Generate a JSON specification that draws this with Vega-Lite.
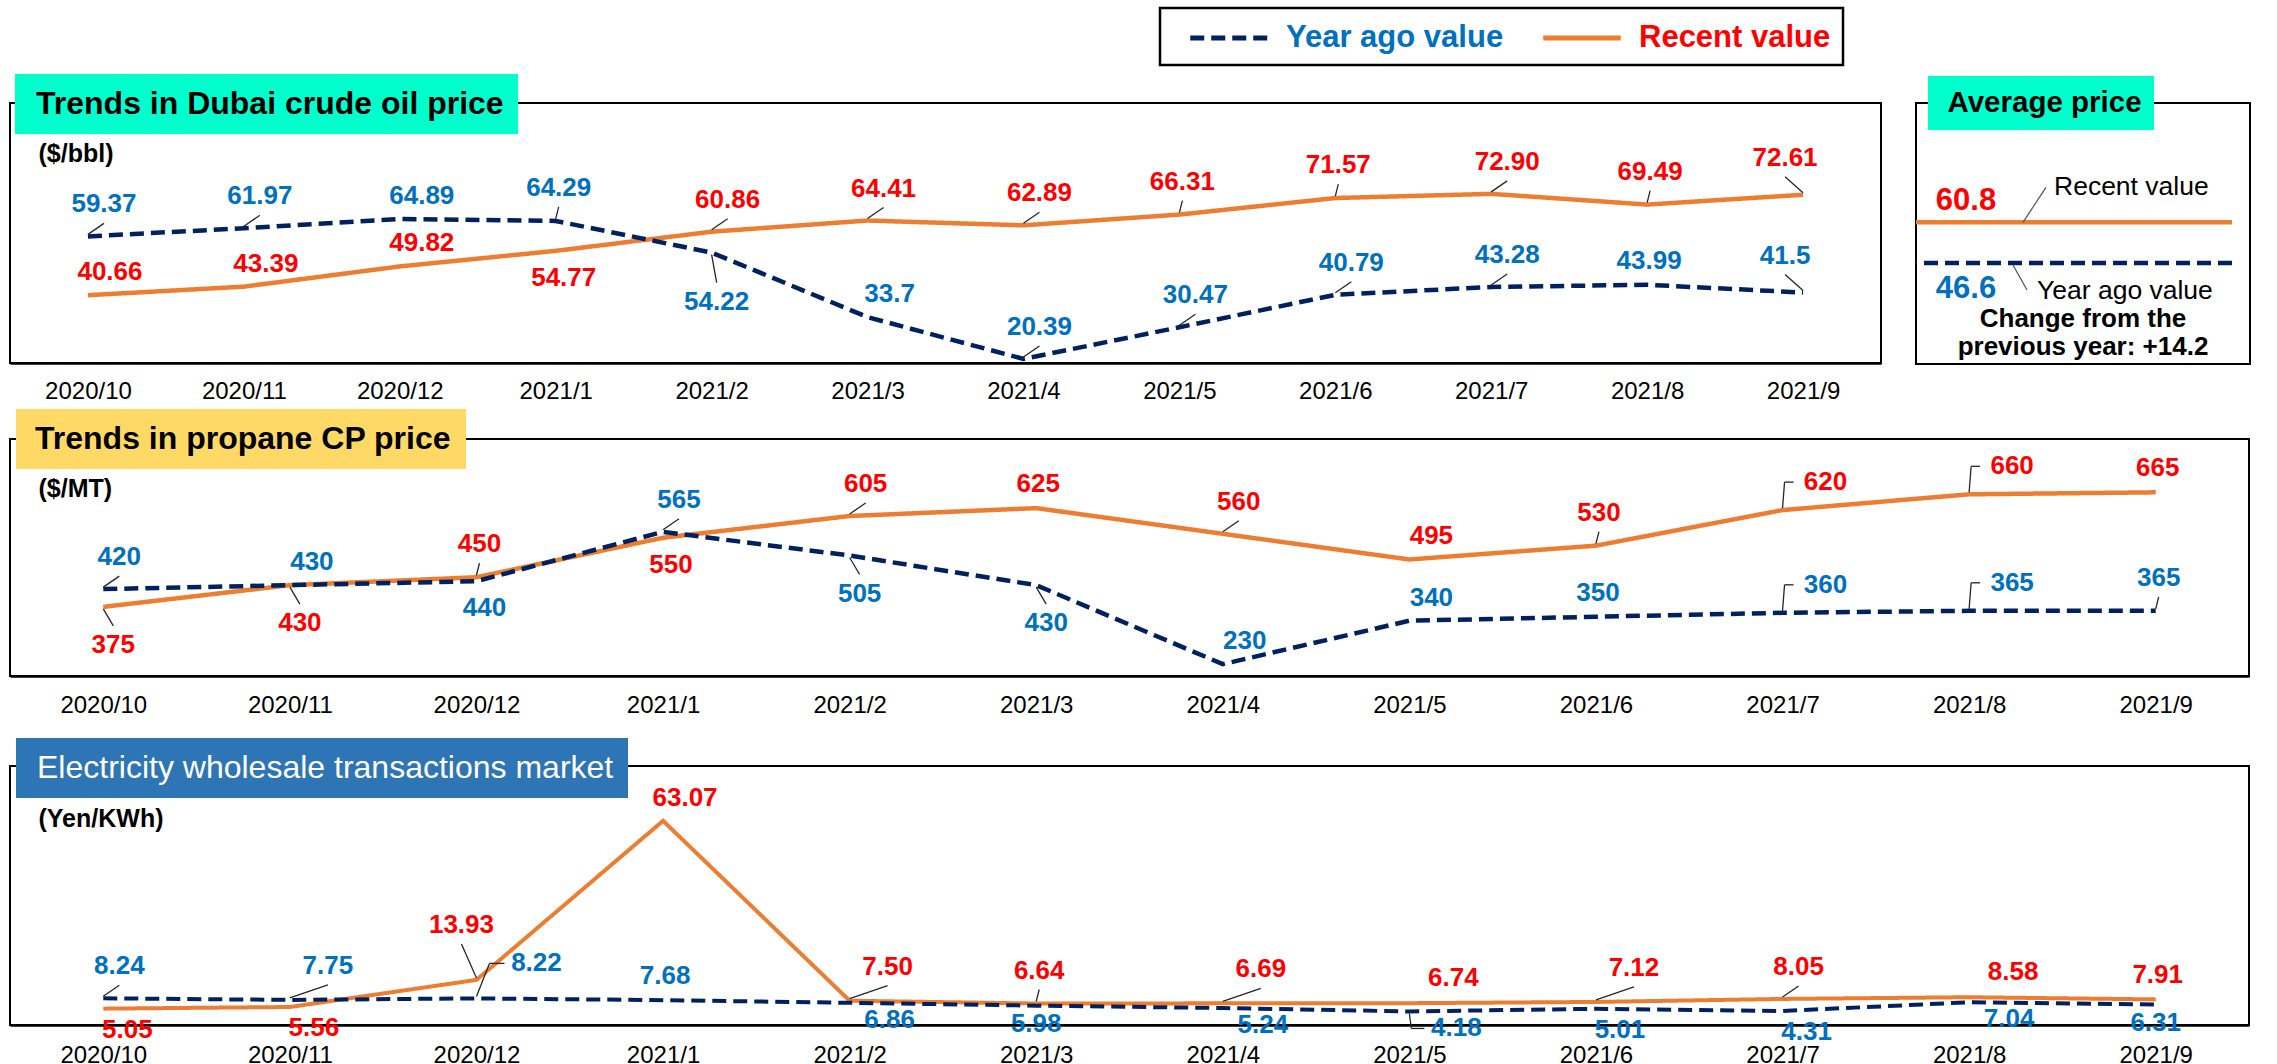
{
"$schema":"https://vega.github.io/schema/vega-lite/v6.json",
"background":"white",
"padding":{"left":9,"top":5,"right":2,"bottom":0},
"spacing":19,
"config":{"font":"Liberation Sans","view":{"stroke":"#000000","strokeWidth":2}},
"resolve":{"scale":{"x":"independent","y":"independent","stroke":"independent","strokeDash":"independent","fill":"independent","shape":"independent"},"axis":{"x":"independent","y":"independent"},"legend":{"stroke":"independent","strokeDash":"independent","fill":"independent","shape":"independent"}},
"datasets":{
"oil":[
{"m":"2020/10","s":"Recent value","v":40.66,"lab":"40.66","pos":"a"},
{"m":"2020/11","s":"Recent value","v":43.39,"lab":"43.39","pos":"a"},
{"m":"2020/12","s":"Recent value","v":49.82,"lab":"49.82","pos":"a"},
{"m":"2021/1","s":"Recent value","v":54.77,"lab":"54.77","pos":"b"},
{"m":"2021/2","s":"Recent value","v":60.86,"lab":"60.86","pos":"A"},
{"m":"2021/3","s":"Recent value","v":64.41,"lab":"64.41","pos":"A"},
{"m":"2021/4","s":"Recent value","v":62.89,"lab":"62.89","pos":"A"},
{"m":"2021/5","s":"Recent value","v":66.31,"lab":"66.31","pos":"V"},
{"m":"2021/6","s":"Recent value","v":71.57,"lab":"71.57","pos":"V"},
{"m":"2021/7","s":"Recent value","v":72.90,"lab":"72.90","pos":"A"},
{"m":"2021/8","s":"Recent value","v":69.49,"lab":"69.49","pos":"V"},
{"m":"2021/9","s":"Recent value","v":72.61,"lab":"72.61","pos":"L"},
{"m":"2020/10","s":"Year ago value","v":59.37,"lab":"59.37","pos":"A"},
{"m":"2020/11","s":"Year ago value","v":61.97,"lab":"61.97","pos":"A"},
{"m":"2020/12","s":"Year ago value","v":64.89,"lab":"64.89","pos":"a"},
{"m":"2021/1","s":"Year ago value","v":64.29,"lab":"64.29","pos":"V"},
{"m":"2021/2","s":"Year ago value","v":54.22,"lab":"54.22","pos":"BB"},
{"m":"2021/3","s":"Year ago value","v":33.7,"lab":"33.7","pos":"a"},
{"m":"2021/4","s":"Year ago value","v":20.39,"lab":"20.39","pos":"A"},
{"m":"2021/5","s":"Year ago value","v":30.47,"lab":"30.47","pos":"A"},
{"m":"2021/6","s":"Year ago value","v":40.79,"lab":"40.79","pos":"A"},
{"m":"2021/7","s":"Year ago value","v":43.28,"lab":"43.28","pos":"A"},
{"m":"2021/8","s":"Year ago value","v":43.99,"lab":"43.99","pos":"v"},
{"m":"2021/9","s":"Year ago value","v":41.5,"lab":"41.5","pos":"L"}
],
"propane":[
{"m":"2020/10","s":"Recent value","v":375,"lab":"375","pos":"B"},
{"m":"2020/11","s":"Recent value","v":430,"lab":"430","pos":"B"},
{"m":"2020/12","s":"Recent value","v":450,"lab":"450","pos":"V"},
{"m":"2021/1","s":"Recent value","v":550,"lab":"550","pos":"b"},
{"m":"2021/2","s":"Recent value","v":605,"lab":"605","pos":"A"},
{"m":"2021/3","s":"Recent value","v":625,"lab":"625","pos":"v"},
{"m":"2021/4","s":"Recent value","v":560,"lab":"560","pos":"A"},
{"m":"2021/5","s":"Recent value","v":495,"lab":"495","pos":"a"},
{"m":"2021/6","s":"Recent value","v":530,"lab":"530","pos":"V"},
{"m":"2021/7","s":"Recent value","v":620,"lab":"620","pos":"R"},
{"m":"2021/8","s":"Recent value","v":660,"lab":"660","pos":"R"},
{"m":"2021/9","s":"Recent value","v":665,"lab":"665","pos":"v"},
{"m":"2020/10","s":"Year ago value","v":420,"lab":"420","pos":"A"},
{"m":"2020/11","s":"Year ago value","v":430,"lab":"430","pos":"a"},
{"m":"2020/12","s":"Year ago value","v":440,"lab":"440","pos":"b"},
{"m":"2021/1","s":"Year ago value","v":565,"lab":"565","pos":"A"},
{"m":"2021/2","s":"Year ago value","v":505,"lab":"505","pos":"B"},
{"m":"2021/3","s":"Year ago value","v":430,"lab":"430","pos":"B"},
{"m":"2021/4","s":"Year ago value","v":230,"lab":"230","pos":"a"},
{"m":"2021/5","s":"Year ago value","v":340,"lab":"340","pos":"a"},
{"m":"2021/6","s":"Year ago value","v":350,"lab":"350","pos":"v"},
{"m":"2021/7","s":"Year ago value","v":360,"lab":"360","pos":"R"},
{"m":"2021/8","s":"Year ago value","v":365,"lab":"365","pos":"R"},
{"m":"2021/9","s":"Year ago value","v":365,"lab":"365","pos":"V"}
],
"elec":[
{"m":"2020/10","s":"Recent value","v":5.05,"lab":"5.05","pos":"dr"},
{"m":"2020/11","s":"Recent value","v":5.56,"lab":"5.56","pos":"dr"},
{"m":"2020/12","s":"Recent value","v":13.93,"lab":"13.93","pos":"U"},
{"m":"2021/1","s":"Recent value","v":63.07,"lab":"63.07","pos":"a"},
{"m":"2021/2","s":"Recent value","v":7.50,"lab":"7.50","pos":"Ar"},
{"m":"2021/3","s":"Recent value","v":6.64,"lab":"6.64","pos":"V"},
{"m":"2021/4","s":"Recent value","v":6.69,"lab":"6.69","pos":"Ar"},
{"m":"2021/5","s":"Recent value","v":6.74,"lab":"6.74","pos":"ar"},
{"m":"2021/6","s":"Recent value","v":7.12,"lab":"7.12","pos":"Ar"},
{"m":"2021/7","s":"Recent value","v":8.05,"lab":"8.05","pos":"A"},
{"m":"2021/8","s":"Recent value","v":8.58,"lab":"8.58","pos":"ar"},
{"m":"2021/9","s":"Recent value","v":7.91,"lab":"7.91","pos":"v"},
{"m":"2020/10","s":"Year ago value","v":8.24,"lab":"8.24","pos":"A"},
{"m":"2020/11","s":"Year ago value","v":7.75,"lab":"7.75","pos":"Ar"},
{"m":"2020/12","s":"Year ago value","v":8.22,"lab":"8.22","pos":"RR"},
{"m":"2021/1","s":"Year ago value","v":7.68,"lab":"7.68","pos":"v"},
{"m":"2021/2","s":"Year ago value","v":6.86,"lab":"6.86","pos":"r"},
{"m":"2021/3","s":"Year ago value","v":5.98,"lab":"5.98","pos":"d"},
{"m":"2021/4","s":"Year ago value","v":5.24,"lab":"5.24","pos":"r"},
{"m":"2021/5","s":"Year ago value","v":4.18,"lab":"4.18","pos":"Rb"},
{"m":"2021/6","s":"Year ago value","v":5.01,"lab":"5.01","pos":"dr"},
{"m":"2021/7","s":"Year ago value","v":4.31,"lab":"4.31","pos":"dr"},
{"m":"2021/8","s":"Year ago value","v":7.04,"lab":"7.04","pos":"r"},
{"m":"2021/9","s":"Year ago value","v":6.31,"lab":"6.31","pos":"d"}
],
"avg":[
{"s":"Recent value","v":60.8,"lab":"60.8"},
{"s":"Year ago value","v":46.6,"lab":"46.6"}
]
},
"vconcat":[
{
"spacing":4,
"resolve":{"scale":{"x":"independent","y":"independent","stroke":"independent","strokeDash":"independent","fill":"independent","shape":"independent"},"axis":{"x":"independent","y":"independent"},"legend":{"stroke":"independent","strokeDash":"independent","fill":"independent","shape":"independent"}},
"vconcat":[
{
"bounds":"flush",
"spacing":35,
"resolve":{"scale":{"x":"independent","y":"independent","stroke":"independent","strokeDash":"independent","fill":"independent","shape":"independent"},"axis":{"x":"independent","y":"independent"},"legend":{"stroke":"independent","strokeDash":"independent","fill":"independent","shape":"independent"}},
"hconcat":[
{
"width":1871,"height":260,
"data":{"name":"oil"},
"layer":[
{"mark":{"type":"line","strokeWidth":4.5},
"encoding":{
"x":{"field":"m","type":"ordinal","sort":null,"scale":{"type":"point","padding":0.5},"axis":{"title":null,"labelAngle":0,"labelFontSize":24,"labelColor":"#000000","labelPadding":28,"labelBaseline":"middle","ticks":false,"tickSize":0,"domainColor":"#000000","domainWidth":2.5,"grid":false,"labelFlush":false,"labelOverlap":false}},
"y":{"field":"v","type":"quantitative","scale":{"domain":[19.1,101.8],"nice":false,"zero":false},"axis":{"title":"($/bbl)","titleAngle":0,"titleAlign":"left","titleBaseline":"middle","titleX":28,"titleY":50,"titleFontSize":25,"titleFontWeight":"bold","titleColor":"#000000","domain":false,"ticks":false,"labels":false,"grid":false}},
"stroke":{"field":"s","type":"nominal","scale":{"domain":["Year ago value","Recent value"],"range":["#002060","#ED7D31"]},"legend":{"orient":"none","legendX":1150,"legendY":-95,"direction":"horizontal","gridAlign":"all","title":null,"symbolType":"M-2.5,0H2.5","symbolSize":961,"symbolStrokeWidth":5,"symbolOffset":39,"labelOffset":39,"columnPadding":21,"labelFontSize":31,"labelFontWeight":"bold","labelLimit":400,"padding":12,"strokeColor":"#000000","fillColor":"#FFFFFF","encode":{"labels":{"update":{"fill":{"signal":"datum.value === 'Recent value' ? '#FF0000' : '#0070C0'"}}},"legend":{"update":{"strokeWidth":{"value":2.5}}}}}},
"strokeDash":{"field":"s","type":"nominal","scale":{"domain":["Year ago value","Recent value"],"range":[[14,7],[1,0]]},"legend":{"orient":"none","legendX":1150,"legendY":-95,"direction":"horizontal","gridAlign":"all","title":null,"symbolType":"M-2.5,0H2.5","symbolSize":961,"symbolStrokeWidth":5,"symbolOffset":39,"labelOffset":39,"columnPadding":21,"labelFontSize":31,"labelFontWeight":"bold","labelLimit":400,"padding":12,"strokeColor":"#000000","fillColor":"#FFFFFF","encode":{"labels":{"update":{"fill":{"signal":"datum.value === 'Recent value' ? '#FF0000' : '#0070C0'"}}},"legend":{"update":{"strokeWidth":{"value":2.5}}}}}}
}},
{"transform":[{"filter":{"field":"pos","oneOf":["A","V","L","B","BB","Ar","U"]}}],
"mark":{"type":"rule","color":"#262626","strokeWidth":1.3,"yOffset":{"expr":"indexof(['B','BB'],datum.pos)>=0?2:-2"},"x2Offset":{"expr":"[16,3,22,2,-18,10,5,8,0,24,40,43,60,47,38,44,-15][indexof(['A','V','a','v','L','B','BB','b','d','dr','r','R','RR','Rb','Ar','ar','U'],datum.pos)]"},"y2Offset":{"expr":"[-32,-33,-23,-24,-37,38,49,27,18,21,17,-28,-35,17,-34,-25,-55][indexof(['A','V','a','v','L','B','BB','b','d','dr','r','R','RR','Rb','Ar','ar','U'],datum.pos)]+(indexof(['B','BB'],datum.pos)>=0?-19:19)"}},
"encoding":{"x":{"field":"m","type":"ordinal","sort":null},"x2":{"field":"m"},"y":{"field":"v","type":"quantitative"},"y2":{"field":"v"}}},
{"mark":{"type":"text","fontSize":26,"fontWeight":"bold","align":"center","baseline":"middle","dx":{"expr":"[16,3,22,2,-18,10,5,8,0,24,40,43,60,47,38,44,-15][indexof(['A','V','a','v','L','B','BB','b','d','dr','r','R','RR','Rb','Ar','ar','U'],datum.pos)]"},"dy":{"expr":"[-32,-33,-23,-24,-37,38,49,27,18,21,17,-28,-35,17,-34,-25,-55][indexof(['A','V','a','v','L','B','BB','b','d','dr','r','R','RR','Rb','Ar','ar','U'],datum.pos)]"}},
"encoding":{"x":{"field":"m","type":"ordinal","sort":null},"y":{"field":"v","type":"quantitative"},"text":{"field":"lab"},"fill":{"field":"s","type":"nominal","scale":{"domain":["Year ago value","Recent value"],"range":["#0070C0","#FF0000"]},"legend":null}}},
{"data":{"values":[{"t":"Trends in Dubai crude oil price"}]},"mark":{"type":"point","opacity":0},
"encoding":{"shape":{"field":"t","type":"nominal","legend":{"orient":"none","legendX":5,"legendY":-29,"title":null,"symbolSize":0,"symbolOpacity":0,"symbolStrokeWidth":0,"labelOffset":-25,"labelFontSize":32,"labelFontWeight":"bold","labelColor":"#000000","labelLimit":1000,"padding":14,"fillColor":"#00FFCC"}}}}
]
},
{
"width":334,"height":261,
"data":{"name":"avg"},
"layer":[
{"mark":{"type":"rule","strokeWidth":4.5,"xOffset":-18,"x2Offset":19},
"encoding":{
"y":{"field":"v","type":"quantitative","scale":{"domain":[11.4,102.4],"nice":false,"zero":false},"axis":null},
"stroke":{"field":"s","type":"nominal","scale":{"domain":["Year ago value","Recent value"],"range":["#002060","#ED7D31"]},"legend":null},
"strokeDash":{"field":"s","type":"nominal","scale":{"domain":["Year ago value","Recent value"],"range":[[14,7],[1,0]]},"legend":null}
}},
{"mark":{"type":"rule","color":"#595959","strokeWidth":1.3,"xOffset":{"expr":"datum.s=='Recent value'?-60:-70"},"yOffset":{"expr":"datum.s=='Recent value'?0:2"},"x2Offset":{"expr":"datum.s=='Recent value'?-37:-56"},"y2Offset":{"expr":"datum.s=='Recent value'?-35:27"}},
"encoding":{"x":{"datum":0.5,"type":"quantitative","scale":{"domain":[0,1]},"axis":null},"x2":{"datum":0.5},"y":{"field":"v","type":"quantitative"},"y2":{"field":"v"}}},
{"mark":{"type":"text","fontSize":31,"fontWeight":"bold","align":"center","baseline":"middle","dx":-117,"dy":{"expr":"datum.s=='Recent value'?-21:26"}},
"encoding":{"x":{"datum":0.5,"type":"quantitative"},"y":{"field":"v","type":"quantitative"},"text":{"field":"lab"},"fill":{"field":"s","type":"nominal","scale":{"domain":["Year ago value","Recent value"],"range":["#0070C0","#FF0000"]},"legend":null}}},
{"mark":{"type":"text","fontSize":26.5,"align":"left","baseline":"middle","color":"#000000","dx":{"expr":"datum.s=='Recent value'?-29:-46"},"dy":{"expr":"datum.s=='Recent value'?-35:28"}},
"encoding":{"x":{"datum":0.5,"type":"quantitative"},"y":{"field":"v","type":"quantitative"},"text":{"field":"s"}}},
{"transform":[{"filter":"datum.s=='Year ago value'"}],
"mark":{"type":"text","fontSize":26,"fontWeight":"bold","align":"center","baseline":"middle","lineHeight":28,"dy":56,"color":"#000000"},
"encoding":{"x":{"datum":0.5,"type":"quantitative"},"y":{"field":"v","type":"quantitative"},"text":{"value":["Change from the","previous year: +14.2"]}}},
{"data":{"values":[{"t":"Average price"}]},"mark":{"type":"point","opacity":0},
"encoding":{"shape":{"field":"t","type":"nominal","legend":{"orient":"none","legendX":12,"legendY":-27,"title":null,"symbolSize":0,"symbolOpacity":0,"symbolStrokeWidth":0,"labelOffset":-22,"labelFontSize":29.5,"labelFontWeight":"bold","labelColor":"#000000","labelLimit":1000,"padding":12,"fillColor":"#00FFCC"}}}}
]
}
]
},
{
"width":2239,"height":237,
"data":{"name":"propane"},
"layer":[
{"mark":{"type":"line","strokeWidth":4.5},
"encoding":{
"x":{"field":"m","type":"ordinal","sort":null,"scale":{"type":"point","padding":0.5},"axis":{"title":null,"labelAngle":0,"labelFontSize":24,"labelColor":"#000000","labelPadding":29,"labelBaseline":"middle","ticks":false,"tickSize":0,"domainColor":"#000000","domainWidth":2.5,"grid":false,"labelFlush":false,"labelOverlap":false}},
"y":{"field":"v","type":"quantitative","scale":{"domain":[200,800],"nice":false,"zero":false},"axis":{"title":"($/MT)","titleAngle":0,"titleAlign":"left","titleBaseline":"middle","titleX":28,"titleY":49,"titleFontSize":25,"titleFontWeight":"bold","titleColor":"#000000","domain":false,"ticks":false,"labels":false,"grid":false}},
"stroke":{"field":"s","type":"nominal","scale":{"domain":["Year ago value","Recent value"],"range":["#002060","#ED7D31"]},"legend":null},
"strokeDash":{"field":"s","type":"nominal","scale":{"domain":["Year ago value","Recent value"],"range":[[14,7],[1,0]]},"legend":null}
}},
{"transform":[{"filter":{"field":"pos","oneOf":["A","V","L","B","BB","Ar","U"]}}],
"mark":{"type":"rule","color":"#262626","strokeWidth":1.3,"yOffset":{"expr":"indexof(['B','BB'],datum.pos)>=0?2:-2"},"x2Offset":{"expr":"[16,3,22,2,-18,10,5,8,0,24,40,43,60,47,38,44,-15][indexof(['A','V','a','v','L','B','BB','b','d','dr','r','R','RR','Rb','Ar','ar','U'],datum.pos)]"},"y2Offset":{"expr":"[-32,-33,-23,-24,-37,38,49,27,18,21,17,-28,-35,17,-34,-25,-55][indexof(['A','V','a','v','L','B','BB','b','d','dr','r','R','RR','Rb','Ar','ar','U'],datum.pos)]+(indexof(['B','BB'],datum.pos)>=0?-19:19)"}},
"encoding":{"x":{"field":"m","type":"ordinal","sort":null},"x2":{"field":"m"},"y":{"field":"v","type":"quantitative"},"y2":{"field":"v"}}},
{"transform":[{"filter":{"field":"pos","oneOf":["R","RR","Rb"]}}],
"mark":{"type":"rule","color":"#262626","strokeWidth":1.3,"yOffset":{"expr":"datum.pos=='Rb'?2:-2"},"x2Offset":{"expr":"datum.pos=='RR'?13:2"},"y2Offset":{"expr":"[-32,-33,-23,-24,-37,38,49,27,18,21,17,-28,-35,17,-34,-25,-55][indexof(['A','V','a','v','L','B','BB','b','d','dr','r','R','RR','Rb','Ar','ar','U'],datum.pos)]"}},
"encoding":{"x":{"field":"m","type":"ordinal","sort":null},"x2":{"field":"m"},"y":{"field":"v","type":"quantitative"},"y2":{"field":"v"}}},
{"transform":[{"filter":{"field":"pos","oneOf":["R","RR","Rb"]}}],
"mark":{"type":"rule","color":"#262626","strokeWidth":1.3,"xOffset":{"expr":"datum.pos=='RR'?13:2"},"yOffset":{"expr":"[-32,-33,-23,-24,-37,38,49,27,18,21,17,-28,-35,17,-34,-25,-55][indexof(['A','V','a','v','L','B','BB','b','d','dr','r','R','RR','Rb','Ar','ar','U'],datum.pos)]"},"x2Offset":{"expr":"[16,3,22,2,-18,10,5,8,0,24,40,43,60,47,38,44,-15][indexof(['A','V','a','v','L','B','BB','b','d','dr','r','R','RR','Rb','Ar','ar','U'],datum.pos)]-32"},"y2Offset":{"expr":"[-32,-33,-23,-24,-37,38,49,27,18,21,17,-28,-35,17,-34,-25,-55][indexof(['A','V','a','v','L','B','BB','b','d','dr','r','R','RR','Rb','Ar','ar','U'],datum.pos)]"}},
"encoding":{"x":{"field":"m","type":"ordinal","sort":null},"x2":{"field":"m"},"y":{"field":"v","type":"quantitative"},"y2":{"field":"v"}}},
{"mark":{"type":"text","fontSize":26,"fontWeight":"bold","align":"center","baseline":"middle","dx":{"expr":"[16,3,22,2,-18,10,5,8,0,24,40,43,60,47,38,44,-15][indexof(['A','V','a','v','L','B','BB','b','d','dr','r','R','RR','Rb','Ar','ar','U'],datum.pos)]"},"dy":{"expr":"[-32,-33,-23,-24,-37,38,49,27,18,21,17,-28,-35,17,-34,-25,-55][indexof(['A','V','a','v','L','B','BB','b','d','dr','r','R','RR','Rb','Ar','ar','U'],datum.pos)]"}},
"encoding":{"x":{"field":"m","type":"ordinal","sort":null},"y":{"field":"v","type":"quantitative"},"text":{"field":"lab"},"fill":{"field":"s","type":"nominal","scale":{"domain":["Year ago value","Recent value"],"range":["#0070C0","#FF0000"]},"legend":null}}},
{"data":{"values":[{"t":"Trends in propane CP price"}]},"mark":{"type":"point","opacity":0},
"encoding":{"shape":{"field":"t","type":"nominal","legend":{"orient":"none","legendX":6,"legendY":-30,"title":null,"symbolSize":0,"symbolOpacity":0,"symbolStrokeWidth":0,"labelOffset":-27,"labelFontSize":32,"labelFontWeight":"bold","labelColor":"#000000","labelLimit":1000,"padding":14,"fillColor":"#FFD966"}}}}
]
}
]
},
{
"width":2239,"height":259,
"data":{"name":"elec"},
"layer":[
{"mark":{"type":"line","strokeWidth":4},
"encoding":{
"x":{"field":"m","type":"ordinal","sort":null,"scale":{"type":"point","padding":0.5},"axis":{"title":null,"labelAngle":0,"labelFontSize":24,"labelColor":"#000000","labelPadding":30,"labelBaseline":"middle","ticks":false,"tickSize":0,"domainColor":"#000000","domainWidth":2.5,"grid":false,"labelFlush":false,"labelOverlap":false}},
"y":{"field":"v","type":"quantitative","scale":{"domain":[0,80],"nice":false,"zero":false},"axis":{"title":"(Yen/KWh)","titleAngle":0,"titleAlign":"left","titleBaseline":"middle","titleX":28,"titleY":52,"titleFontSize":25,"titleFontWeight":"bold","titleColor":"#000000","domain":false,"ticks":false,"labels":false,"grid":false}},
"stroke":{"field":"s","type":"nominal","scale":{"domain":["Year ago value","Recent value"],"range":["#002060","#ED7D31"]},"legend":null},
"strokeDash":{"field":"s","type":"nominal","scale":{"domain":["Year ago value","Recent value"],"range":[[14,7],[1,0]]},"legend":null}
}},
{"transform":[{"filter":{"field":"pos","oneOf":["A","V","L","B","BB","Ar","U"]}}],
"mark":{"type":"rule","color":"#262626","strokeWidth":1.3,"yOffset":{"expr":"indexof(['B','BB'],datum.pos)>=0?2:-2"},"x2Offset":{"expr":"[16,3,22,2,-18,10,5,8,0,24,40,43,60,47,38,44,-15][indexof(['A','V','a','v','L','B','BB','b','d','dr','r','R','RR','Rb','Ar','ar','U'],datum.pos)]"},"y2Offset":{"expr":"[-32,-33,-23,-24,-37,38,49,27,18,21,17,-28,-35,17,-34,-25,-55][indexof(['A','V','a','v','L','B','BB','b','d','dr','r','R','RR','Rb','Ar','ar','U'],datum.pos)]+(indexof(['B','BB'],datum.pos)>=0?-19:19)"}},
"encoding":{"x":{"field":"m","type":"ordinal","sort":null},"x2":{"field":"m"},"y":{"field":"v","type":"quantitative"},"y2":{"field":"v"}}},
{"transform":[{"filter":{"field":"pos","oneOf":["R","RR","Rb"]}}],
"mark":{"type":"rule","color":"#262626","strokeWidth":1.3,"yOffset":{"expr":"datum.pos=='Rb'?2:-2"},"x2Offset":{"expr":"datum.pos=='RR'?13:2"},"y2Offset":{"expr":"[-32,-33,-23,-24,-37,38,49,27,18,21,17,-28,-35,17,-34,-25,-55][indexof(['A','V','a','v','L','B','BB','b','d','dr','r','R','RR','Rb','Ar','ar','U'],datum.pos)]"}},
"encoding":{"x":{"field":"m","type":"ordinal","sort":null},"x2":{"field":"m"},"y":{"field":"v","type":"quantitative"},"y2":{"field":"v"}}},
{"transform":[{"filter":{"field":"pos","oneOf":["R","RR","Rb"]}}],
"mark":{"type":"rule","color":"#262626","strokeWidth":1.3,"xOffset":{"expr":"datum.pos=='RR'?13:2"},"yOffset":{"expr":"[-32,-33,-23,-24,-37,38,49,27,18,21,17,-28,-35,17,-34,-25,-55][indexof(['A','V','a','v','L','B','BB','b','d','dr','r','R','RR','Rb','Ar','ar','U'],datum.pos)]"},"x2Offset":{"expr":"[16,3,22,2,-18,10,5,8,0,24,40,43,60,47,38,44,-15][indexof(['A','V','a','v','L','B','BB','b','d','dr','r','R','RR','Rb','Ar','ar','U'],datum.pos)]-32"},"y2Offset":{"expr":"[-32,-33,-23,-24,-37,38,49,27,18,21,17,-28,-35,17,-34,-25,-55][indexof(['A','V','a','v','L','B','BB','b','d','dr','r','R','RR','Rb','Ar','ar','U'],datum.pos)]"}},
"encoding":{"x":{"field":"m","type":"ordinal","sort":null},"x2":{"field":"m"},"y":{"field":"v","type":"quantitative"},"y2":{"field":"v"}}},
{"mark":{"type":"text","fontSize":26,"fontWeight":"bold","align":"center","baseline":"middle","dx":{"expr":"[16,3,22,2,-18,10,5,8,0,24,40,43,60,47,38,44,-15][indexof(['A','V','a','v','L','B','BB','b','d','dr','r','R','RR','Rb','Ar','ar','U'],datum.pos)]"},"dy":{"expr":"[-32,-33,-23,-24,-37,38,49,27,18,21,17,-28,-35,17,-34,-25,-55][indexof(['A','V','a','v','L','B','BB','b','d','dr','r','R','RR','Rb','Ar','ar','U'],datum.pos)]"}},
"encoding":{"x":{"field":"m","type":"ordinal","sort":null},"y":{"field":"v","type":"quantitative"},"text":{"field":"lab"},"fill":{"field":"s","type":"nominal","scale":{"domain":["Year ago value","Recent value"],"range":["#0070C0","#FF0000"]},"legend":null}}},
{"data":{"values":[{"t":"Electricity wholesale transactions market"}]},"mark":{"type":"point","opacity":0},
"encoding":{"shape":{"field":"t","type":"nominal","legend":{"orient":"none","legendX":6,"legendY":-28,"title":null,"symbolSize":0,"symbolOpacity":0,"symbolStrokeWidth":0,"labelOffset":-25,"labelFontSize":32,"labelFontWeight":"normal","labelColor":"#FFFFFF","labelLimit":1000,"padding":14,"fillColor":"#2E75B6"}}}}
]
}
]
}
